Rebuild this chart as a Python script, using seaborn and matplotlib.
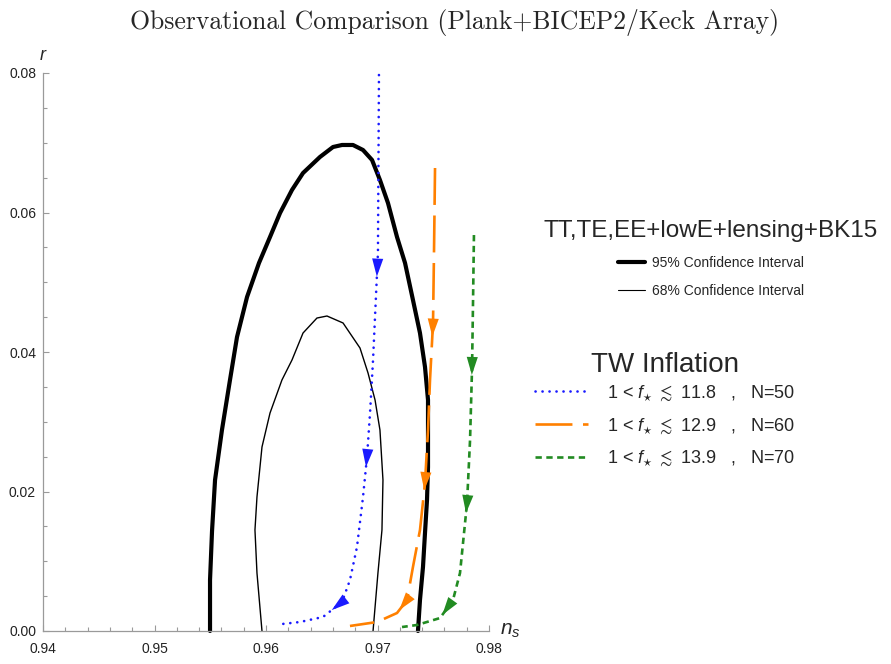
import numpy as np
import matplotlib
matplotlib.use("Agg")
import matplotlib.pyplot as plt
import seaborn as sns
from matplotlib.lines import Line2D

# ---------------- data ----------------
ci95_ns = [0.95498, 0.95498, 0.95516, 0.95543, 0.95605, 0.95677, 0.95740, 0.95830,
           0.95937, 0.96036, 0.96126, 0.96233, 0.96332, 0.96484, 0.96601, 0.96682,
           0.96780, 0.96870, 0.96951, 0.97022, 0.97094, 0.97175, 0.97247, 0.97318,
           0.97381, 0.97426, 0.97453, 0.97453, 0.97453, 0.97444, 0.97426, 0.97408,
           0.97381, 0.97363]
ci95_r = [0.0, 0.00731, 0.01434, 0.02165, 0.02882, 0.03599, 0.04215, 0.04789,
          0.05276, 0.05649, 0.05993, 0.06323, 0.06566, 0.06796, 0.06939, 0.06968,
          0.06968, 0.06896, 0.06753, 0.06466, 0.06136, 0.05649, 0.05276, 0.04746,
          0.04272, 0.03785, 0.03312, 0.02839, 0.02351, 0.01878, 0.01405, 0.00918,
          0.00444, 0.0]

ci68_ns = [0.95964, 0.95919, 0.95901, 0.95919, 0.95964, 0.96036, 0.96143, 0.96233,
           0.96332, 0.96457, 0.96547, 0.96691, 0.96843, 0.96915, 0.96978, 0.97022,
           0.97049, 0.97040, 0.97004, 0.96960]
ci68_r = [0.0, 0.00832, 0.01448, 0.01921, 0.02638, 0.03125, 0.03599, 0.03885,
          0.04272, 0.04487, 0.04516, 0.04416, 0.04057, 0.03699, 0.03312, 0.02882,
          0.02165, 0.01448, 0.00832, 0.0]

n50_ns = [0.97013, 0.97004, 0.96960, 0.96933, 0.96906, 0.96870, 0.96816, 0.96753,
          0.96682, 0.96511, 0.96305, 0.96143]
n50_r = [0.07971, 0.05419, 0.03885, 0.03125, 0.02495, 0.01921, 0.01204, 0.00731,
         0.00416, 0.00201, 0.00129, 0.00100]

n60_ns = [0.97516, 0.97507, 0.97498, 0.97471, 0.97453, 0.97426, 0.97381, 0.97318,
          0.97265, 0.97175, 0.96996, 0.96753]
n60_r = [0.06638, 0.05462, 0.04416, 0.03599, 0.02882, 0.02122, 0.01448, 0.00918,
         0.00444, 0.00258, 0.00129, 0.00072]

n70_ns = [0.97865, 0.97857, 0.97848, 0.97830, 0.97803, 0.97740, 0.97677, 0.97561,
          0.97354, 0.97220]
n70_r = [0.05677, 0.04746, 0.03771, 0.02738, 0.01835, 0.00832, 0.00444, 0.00186,
         0.00086, 0.00057]

arrow_r_n50 = [0.0508, 0.0235, 0.0030]
arrow_r_n60 = [0.0422, 0.0202, 0.0030]
arrow_r_n70 = [0.0367, 0.0169, 0.0023]

title_text = "Observational Comparison (Plank+BICEP2/Keck Array)"
ci_title = "TT,TE,EE+lowE+lensing+BK15"
ci_labels = ["95% Confidence Interval", "68% Confidence Interval"]
tw_title = "TW Inflation"
tw_labels = [r"1 < $f_{\star}$ $\lesssim$ 11.8   ,   N=50",
             r"1 < $f_{\star}$ $\lesssim$ 12.9   ,   N=60",
             r"1 < $f_{\star}$ $\lesssim$ 13.9   ,   N=70"]
x_ticks = [0.94, 0.95, 0.96, 0.97, 0.98]
y_ticks = [0.00, 0.02, 0.04, 0.06, 0.08]

# ---------------- style ----------------
sns.set_style("white")
plt.rcParams["font.family"] = ["Liberation Sans", "DejaVu Sans"]
plt.rcParams["mathtext.fontset"] = "custom"
plt.rcParams["mathtext.rm"] = "Liberation Sans"
plt.rcParams["mathtext.it"] = "Liberation Sans:italic"
plt.rcParams["mathtext.fallback"] = "stixsans"

C_BLUE = "#1a1aff"
C_ORANGE = "#ff8000"
C_GREEN = "#228b22"

fig = plt.figure(figsize=(8.91, 6.64), dpi=100)
ax = fig.add_axes([43 / 891, 1 - 631 / 664, 446 / 891, 558 / 664])
ax.set_xlim(0.94, 0.98)
ax.set_ylim(0.0, 0.08)

def draw(ns, r, **kw):
    sns.lineplot(x=ns, y=r, sort=False, estimator=None, ax=ax, **kw)

draw(ci95_ns, ci95_r, color="black", linewidth=3.0, clip_on=False,
     solid_joinstyle="round")
draw(ci68_ns, ci68_r, color="black", linewidth=1.0, clip_on=False)
ls_blue = (0, (0.05, 2.6))
ls_orange = (0, (14, 4))
ls_green = (0, (2.4, 1.7))
draw(n50_ns, n50_r, color=C_BLUE, linewidth=1.9, linestyle=ls_blue,
     dash_capstyle="round", clip_on=False)
draw(n60_ns, n60_r, color=C_ORANGE, linewidth=1.9, linestyle=ls_orange, clip_on=False)
draw(n70_ns, n70_r, color=C_GREEN, linewidth=1.9, linestyle=ls_green, clip_on=False)


def add_arrows(ns, r, tips, color):
    pts = ax.transData.transform(np.column_stack([ns, r]))
    seg = np.hypot(*np.diff(pts, axis=0).T)
    s = np.concatenate([[0.0], np.cumsum(seg)])
    r = np.asarray(r)
    inv = ax.transData.inverted()
    for rt in tips:
        st = np.interp(rt, r[::-1], s[::-1])
        tip = np.array([np.interp(st, s, pts[:, 0]), np.interp(st, s, pts[:, 1])])
        sb = st - 10
        tail = np.array([np.interp(sb, s, pts[:, 0]), np.interp(sb, s, pts[:, 1])])
        ax.annotate("", xy=inv.transform(tip), xytext=inv.transform(tail),
                    xycoords="data", textcoords="data",
                    arrowprops=dict(arrowstyle="-|>,head_length=0.65,head_width=0.2",
                                    color=color, lw=0, shrinkA=0, shrinkB=0,
                                    mutation_scale=20))

add_arrows(n50_ns, n50_r, arrow_r_n50, C_BLUE)
add_arrows(n60_ns, n60_r, arrow_r_n60, C_ORANGE)
add_arrows(n70_ns, n70_r, arrow_r_n70, C_GREEN)

# axes styling
for side in ["top", "right"]:
    ax.spines[side].set_visible(False)
for side in ["left", "bottom"]:
    ax.spines[side].set_color("#9a9a9a")
    ax.spines[side].set_linewidth(0.9)
ax.set_xticks(x_ticks)
ax.set_yticks(y_ticks)
ax.set_xticklabels([f"{v:.2f}" for v in x_ticks])
ax.set_yticklabels([f"{v:.2f}" for v in y_ticks])
ax.set_xticks(np.arange(0.94, 0.98001, 0.002), minor=True)
ax.set_yticks(np.arange(0.0, 0.08001, 0.005), minor=True)
ax.tick_params(which="both", direction="in", color="#9a9a9a", width=0.8,
               labelsize=10, labelcolor="#222222")
ax.tick_params(which="major", length=4.5)
ax.tick_params(which="minor", length=2.8)
ax.tick_params(axis="y", which="both", left=True, pad=5)
ax.tick_params(axis="x", which="both", bottom=True, pad=8)
ax.set_xlabel("")
ax.set_ylabel("")

ax.text(0.0, 1.0 + 13 / 558, "$r$", transform=ax.transAxes, ha="center",
        va="baseline", fontsize=13)
ax.text(1.025, 0.0, "$n_s$", transform=ax.transAxes, ha="left",
        va="center", fontsize=15)

fig.text(455 / 891, 1 - 22 / 664, title_text, ha="center", va="center",
         fontsize=18.5, family="cmr10")

# legends
h_ci = [Line2D([], [], color="black", lw=3.0), Line2D([], [], color="black", lw=0.8)]
leg1 = fig.legend(handles=h_ci, labels=ci_labels, title=ci_title,
                  loc="upper center", bbox_to_anchor=(711 / 891, 1 - 213 / 664),
                  frameon=False, fontsize=10, title_fontsize=17.5,
                  handlelength=2.0, handletextpad=0.5, labelspacing=1.0,
                  borderpad=0.0)

h_tw = [Line2D([], [], color=C_BLUE, lw=1.9, linestyle=ls_blue, dash_capstyle="round"),
        Line2D([], [], color=C_ORANGE, lw=1.9, linestyle=ls_orange),
        Line2D([], [], color=C_GREEN, lw=1.9, linestyle=ls_green)]
leg2 = fig.legend(handles=h_tw, labels=tw_labels, title=tw_title,
                  loc="upper center", bbox_to_anchor=(665 / 891, 1 - 343 / 664),
                  frameon=False, fontsize=13, title_fontsize=20,
                  handlelength=2.9, handletextpad=1.05, labelspacing=0.74,
                  borderpad=0.0)
leg2._legend_box.sep = 4

fig.savefig("out.png", dpi=100)
